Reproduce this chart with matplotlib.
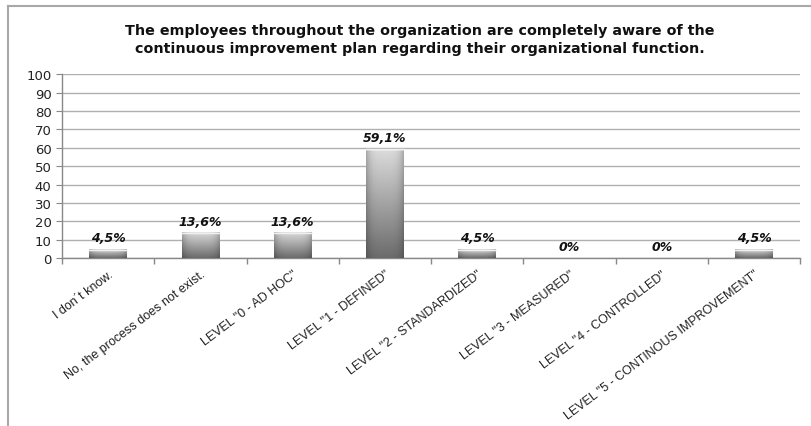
import matplotlib.pyplot as plt
import numpy as np
from matplotlib.lines import Line2D

categories = ["I don\u00b4t know.",
              "No, the process does not exist.",
              'LEVEL "0 - AD HOC"',
              'LEVEL "1 - DEFINED"',
              'LEVEL "2 - STANDARDIZED"',
              'LEVEL "3 - MEASURED"',
              'LEVEL "4 - CONTROLLED"',
              'LEVEL "5 - CONTINOUS IMPROVEMENT"']
values = [4.5, 13.6, 13.6, 59.1, 4.5, 0, 0, 4.5]
labels = ["4,5%", "13,6%", "13,6%", "59,1%", "4,5%", "0%", "0%", "4,5%"]

title = ("The employees throughout the organization are completely aware of the\n"
         "continuous improvement plan regarding their organizational function.")

fig = plt.figure(figsize=(8.11, 4.27), dpi=100)
ax = fig.add_axes([0.0765, 0.393, 0.91, 0.431])

x = np.arange(len(values))
width = 0.41

# shaded fill for the bars: light top, darker bottom, darker side edges
ny, nx = 200, 60
vert = np.linspace(0.86, 0.42, ny)[:, None]
u = np.linspace(-1, 1, nx)[None, :]
horiz = 1 - 0.22 * np.abs(u) ** 4
shade = vert * horiz
shade[:3, :] = np.minimum(shade[:3, :] + 0.1, 0.95)

bars = ax.bar(x, values, width=width, color="none", edgecolor="none", zorder=3)
for b, v in zip(bars, values):
    if v <= 0:
        continue
    x0 = b.get_x()
    ax.imshow(shade, cmap="gray", vmin=0, vmax=1, aspect="auto",
              extent=(x0, x0 + width, 0, v), zorder=3, interpolation="bilinear")
    ax.plot([x0, x0 + width], [v, v], color="#f0f0f0", lw=1.0, zorder=4)

for xi, v, lab in zip(x, values, labels):
    ax.text(xi, v + 3.0, lab, ha="center", va="bottom", fontsize=9,
            fontweight="bold", fontstyle="italic", color="#111111", zorder=5)

ax.set_xlim(-0.5, len(values) - 0.5)
ax.set_ylim(0, 100)
ax.set_yticks(np.arange(0, 101, 10))
ax.set_xticks(x)
ax.set_xticklabels(categories, rotation=37, ha="right", rotation_mode="anchor",
                   fontsize=9, color="#222222", family="Liberation Sans")
ax.set_xticks(np.arange(-0.5, len(values), 1), minor=True)
ax.tick_params(axis="x", which="major", length=0, pad=7)
ax.tick_params(axis="x", which="minor", length=4, color="#888888", width=1)
ax.tick_params(axis="y", length=4, color="#888888", labelsize=9.5, labelcolor="#222222")

ax.yaxis.grid(True, color="#b0b0b0", lw=1)
ax.set_axisbelow(True)
for s in ["top", "right"]:
    ax.spines[s].set_visible(False)
for s in ["left", "bottom"]:
    ax.spines[s].set_color("#888888")
    ax.spines[s].set_linewidth(1)

fig.text(0.518, 0.906, title, ha="center", va="center", fontsize=10.3,
         fontweight="bold", linespacing=1.4, color="#111111")

# outer chart frame
fig.add_artist(Line2D([0.0099, 0.0099], [0.0, 0.984], color="#a8a8a8", lw=1.5))
fig.add_artist(Line2D([0.0099, 1.0], [0.984, 0.984], color="#a8a8a8", lw=1.5))

fig.savefig("out.png", dpi=100)
